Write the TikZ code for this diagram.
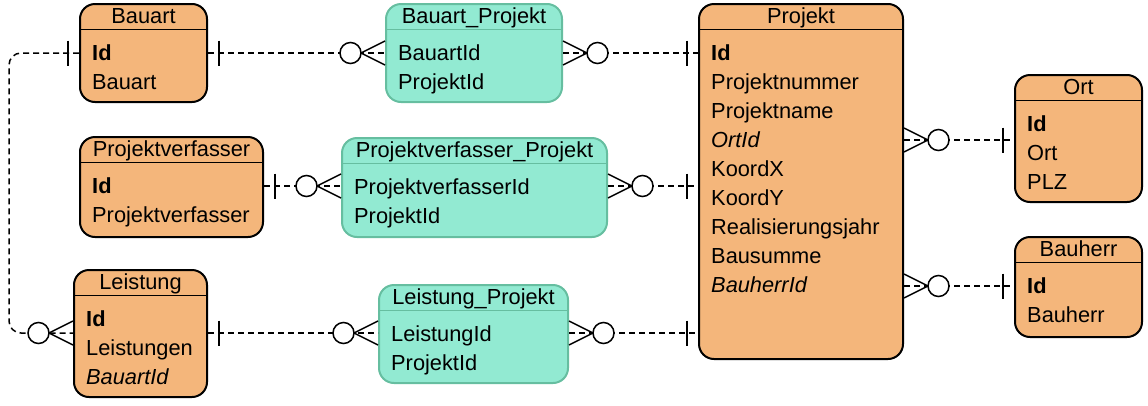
\documentclass[tikz,border=0pt]{standalone}
\usepackage{fontspec}
\setmainfont{Liberation Sans}
\usetikzlibrary{fit}
\definecolor{orfill}{RGB}{244,182,123}
\definecolor{tefill}{RGB}{146,234,210}
\definecolor{tedraw}{RGB}{102,190,160}
\tikzset{
 ent/.style={draw=black, fill=orfill, line width=2pt, rounded corners=15pt, inner sep=0pt},
 rel/.style={draw=tedraw, fill=tefill, line width=2pt, rounded corners=15pt, inner sep=0pt},
 conn/.style={draw=black, line width=1.5pt, dash pattern=on 6pt off 4pt},
 sym/.style={draw=black, line width=1.5pt, solid},
 txt/.style={font=\fontsize{21.8}{26}\selectfont, inner sep=0pt},
}
\newcommand\entity[9]{%
 \node[#2, fit={(#3,#4) (#5,#6)}] (#1) {};
 \draw[#8, line width=1.5pt] ([yshift=-26.5pt]#1.north west) -- ([yshift=-26.5pt]#1.north east);
 \node[txt, anchor=base] (#1-t) at ([yshift=-20.5pt]#1.north) {#7};
 \foreach \tx [count=\i from 0] in {#9}
   \node[txt, anchor=base west] (#1-\i) at ([xshift=13pt,yshift={-57pt-29pt*\i}]#1.north west) {\tx};
}
\newcommand\many[2]{%
 \draw[sym] ([shift={(0,-12)}]#1) -- ([shift={(#2*24,0)}]#1) -- ([shift={(0,12)}]#1);
 \draw[sym, fill=white] ([shift={(#2*34.5,0)}]#1) circle[radius=10.5];
}
\newcommand\one[2]{%
 \draw[sym, line width=2pt] ([shift={(#2*11,-12.5)}]#1) -- ([shift={(#2*11,12.5)}]#1);
}
\begin{document}
\begin{tikzpicture}[x=1pt,y=-1pt]
\useasboundingbox (0,0) rectangle (1148,405);
\entity{bauart}{ent}{80}{4}{207}{102}{Bauart}{black}{\textbf{Id}, Bauart}
\entity{bp}{rel}{386}{4}{562}{102}{Bauart\_Projekt}{tedraw}{BauartId, ProjektId}
\entity{projekt}{ent}{699}{4}{903}{359}{Projekt}{black}{\textbf{Id}, Projektnummer, Projektname, \textit{OrtId}, KoordX, KoordY, Realisierungsjahr, Bausumme, \textit{BauherrId}}
\entity{ort}{ent}{1015}{75}{1142}{202}{Ort}{black}{\textbf{Id}, Ort, PLZ}
\entity{bauherr}{ent}{1015}{237}{1142}{337}{Bauherr}{black}{\textbf{Id}, Bauherr}
\entity{pv}{ent}{80}{137}{263}{237}{Projektverfasser}{black}{\textbf{Id}, Projektverfasser}
\entity{pvp}{rel}{342}{138}{607}{237}{Projektverfasser\_Projekt}{tedraw}{ProjektverfasserId, ProjektId}
\entity{leistung}{ent}{74}{270}{207}{397}{Leistung}{black}{\textbf{Id}, Leistungen, \textit{BauartId}}
\entity{lp}{rel}{379}{285}{568}{383}{Leistung\_Projekt}{tedraw}{LeistungId, ProjektId}

\coordinate (a1) at (bauart.east |- 0,53);
\coordinate (b1) at (bp.west |- 0,53);
\coordinate (a2) at (bp.east |- 0,53);
\coordinate (b2) at (projekt.west |- 0,53);
\coordinate (a3) at (bauart.west |- 0,53);
\coordinate (b3) at (leistung.west |- 0,333);
\coordinate (a4) at (pv.east |- 0,186);
\coordinate (b4) at (pvp.west |- 0,186);
\coordinate (a5) at (pvp.east |- 0,186);
\coordinate (b5) at (projekt.west |- 0,186);
\coordinate (a6) at (leistung.east |- 0,333);
\coordinate (b6) at (lp.west |- 0,333);
\coordinate (a7) at (lp.east |- 0,333);
\coordinate (b7) at (projekt.west |- 0,333);
\coordinate (a8) at (projekt.east |- 0,140);
\coordinate (b8) at (ort.west |- 0,140);
\coordinate (a9) at (projekt.east |- 0,286);
\coordinate (b9) at (bauherr.west |- 0,286);

\draw[conn] (a1) -- (b1);
\draw[conn] (a2) -- (b2);
\draw[conn, rounded corners=12pt] (a3) -- (9,53) -- (9,333) -- (b3);
\draw[conn] (a4) -- (b4);
\draw[conn] (a5) -- (b5);
\draw[conn] (a6) -- (b6);
\draw[conn] (a7) -- (b7);
\draw[conn] (a8) -- (b8);
\draw[conn] (a9) -- (b9);

\one{a1}{1} \many{b1}{-1}
\many{a2}{1} \one{b2}{-1}
\one{a3}{-1} \many{b3}{-1}
\one{a4}{1} \many{b4}{-1}
\many{a5}{1} \one{b5}{-1}
\one{a6}{1} \many{b6}{-1}
\many{a7}{1} \one{b7}{-1}
\many{a8}{1} \one{b8}{-1}
\many{a9}{1} \one{b9}{-1}
\end{tikzpicture}
\end{document}
